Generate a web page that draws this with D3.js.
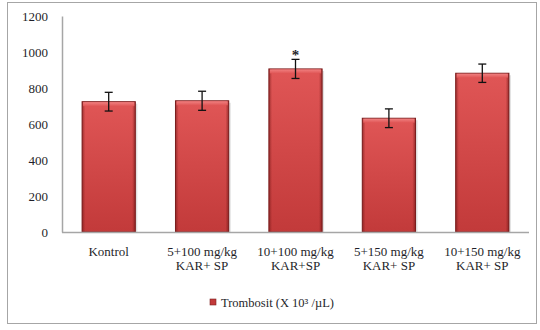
<!DOCTYPE html>
<html>
<head>
<meta charset="utf-8">
<script src="https://cdn.jsdelivr.net/npm/d3@7"></script>
<style>
  html, body { margin: 0; padding: 0; background: #fff; }
  svg { display: block; }
</style>
</head>
<body>
<svg id="chart" width="540" height="330"></svg>
<script>
// Platelet counts per treatment group (mean ± error)
const categories = [
  ["Kontrol"],
  ["5+100 mg/kg", "KAR+ SP"],
  ["10+100 mg/kg", "KAR+SP"],
  ["5+150 mg/kg", "KAR+ SP"],
  ["10+150 mg/kg", "KAR+ SP"]
];
const values = [724, 729, 906, 632, 882];
const errors = [52, 53, 53, 52, 51];
const significant = [false, false, true, false, false];
const yTicks = [0, 200, 400, 600, 800, 1000, 1200];
const seriesName = "Trombosit (X 10³ /µL)";

const svg = d3.select("#chart");
const serif = "'Times New Roman', 'Liberation Serif', 'DejaVu Serif', serif";

// Outer frame
svg.append("rect")
  .attr("x", 7.5).attr("y", 2.5)
  .attr("width", 529).attr("height", 321)
  .attr("fill", "#fff").attr("stroke", "#a6a6a6").attr("stroke-width", 1);

const plot = { left: 62, right: 529, top: 16, bottom: 232 };

const x = d3.scaleBand()
  .domain(d3.range(categories.length))
  .range([plot.left, plot.right])
  .paddingInner(0.43).paddingOuter(0.215);

const y = d3.scaleLinear().domain([0, 1200]).range([plot.bottom, plot.top]);

// Bar gradients
const defs = svg.append("defs");
const vg = defs.append("linearGradient").attr("id", "barFill")
  .attr("x1", 0).attr("y1", 0).attr("x2", 0).attr("y2", 1);
vg.append("stop").attr("offset", "0%").attr("stop-color", "#e05656");
vg.append("stop").attr("offset", "100%").attr("stop-color", "#c23a3a");
const hg = defs.append("linearGradient").attr("id", "barEdge")
  .attr("x1", 0).attr("y1", 0).attr("x2", 1).attr("y2", 0);
hg.append("stop").attr("offset", "0%").attr("stop-color", "#6e1414").attr("stop-opacity", 0.55);
hg.append("stop").attr("offset", "6%").attr("stop-color", "#6e1414").attr("stop-opacity", 0);
hg.append("stop").attr("offset", "94%").attr("stop-color", "#6e1414").attr("stop-opacity", 0);
hg.append("stop").attr("offset", "100%").attr("stop-color", "#6e1414").attr("stop-opacity", 0.6);
const tg = defs.append("linearGradient").attr("id", "barTop")
  .attr("x1", 0).attr("y1", 0).attr("x2", 0).attr("y2", 1);
tg.append("stop").attr("offset", "0%").attr("stop-color", "#f08080");
tg.append("stop").attr("offset", "100%").attr("stop-color", "#e05656");

// Y axis labels (no tick marks)
const yAxis = d3.axisLeft(y).tickValues(yTicks).tickFormat(d3.format("d"))
  .tickSize(0).tickPadding(14);
const gy = svg.append("g").attr("transform", `translate(${plot.left},0)`).call(yAxis)
  .attr("font-family", serif).attr("font-size", 13);
gy.select(".domain").attr("stroke", "#a6a6a6").attr("stroke-width", 1.5);
gy.selectAll("text").attr("fill", "#1f1f2a");

// Bars
const bars = svg.append("g").selectAll("g").data(values).join("g");
bars.append("rect")
  .attr("x", (d, i) => x(i) + 2).attr("y", d => y(d) + 2)
  .attr("width", x.bandwidth()).attr("height", d => y(0) - y(d) - 2)
  .attr("fill", "#000").attr("opacity", 0.12);
bars.append("rect")
  .attr("x", (d, i) => x(i)).attr("y", d => y(d))
  .attr("width", x.bandwidth()).attr("height", d => y(0) - y(d))
  .attr("fill", "url(#barFill)").attr("stroke", "#7d2222").attr("stroke-width", 1);
bars.append("rect")
  .attr("x", (d, i) => x(i)).attr("y", d => y(d))
  .attr("width", x.bandwidth()).attr("height", d => y(0) - y(d))
  .attr("fill", "url(#barEdge)");
bars.append("rect")
  .attr("x", (d, i) => x(i) + 1).attr("y", d => y(d) + 0.5)
  .attr("width", x.bandwidth() - 2).attr("height", 4)
  .attr("fill", "url(#barTop)");

// X axis line
svg.append("line")
  .attr("x1", plot.left).attr("x2", plot.right)
  .attr("y1", y(0) + 0.5).attr("y2", y(0) + 0.5)
  .attr("stroke", "#a6a6a6").attr("stroke-width", 1.5);

// Error bars
const eb = svg.append("g").attr("stroke", "#111").attr("stroke-width", 1.3);
values.forEach((v, i) => {
  const cx = x(i) + x.bandwidth() / 2;
  const top = y(v + errors[i]), bot = y(v - errors[i]);
  eb.append("line").attr("x1", cx).attr("x2", cx).attr("y1", top).attr("y2", bot);
  eb.append("line").attr("x1", cx - 4).attr("x2", cx + 4).attr("y1", top).attr("y2", top);
  eb.append("line").attr("x1", cx - 4).attr("x2", cx + 4).attr("y1", bot).attr("y2", bot);
  if (significant[i]) {
    svg.append("text")
      .attr("x", cx).attr("y", top + 1)
      .attr("text-anchor", "middle")
      .attr("font-family", serif).attr("font-size", 15).attr("font-weight", "bold")
      .attr("fill", "#1f1f2a")
      .text("*");
  }
});

// Category labels
categories.forEach((lines, i) => {
  const cx = x(i) + x.bandwidth() / 2;
  const t = svg.append("text")
    .attr("text-anchor", "middle")
    .attr("font-family", serif).attr("font-size", 13).attr("fill", "#1f1f2a");
  lines.forEach((ln, j) => {
    t.append("tspan").attr("x", cx).attr("y", 256 + j * 13.5).text(ln);
  });
});

// Legend
svg.append("rect")
  .attr("x", 210).attr("y", 299).attr("width", 6).attr("height", 6)
  .attr("fill", "#c23a3a").attr("stroke", "#7d2222").attr("stroke-width", 0.6);
svg.append("text")
  .attr("x", 221).attr("y", 306.5)
  .attr("font-family", serif).attr("font-size", 12.5).attr("fill", "#1f1f2a")
  .text(seriesName);
</script>
</body>
</html>
